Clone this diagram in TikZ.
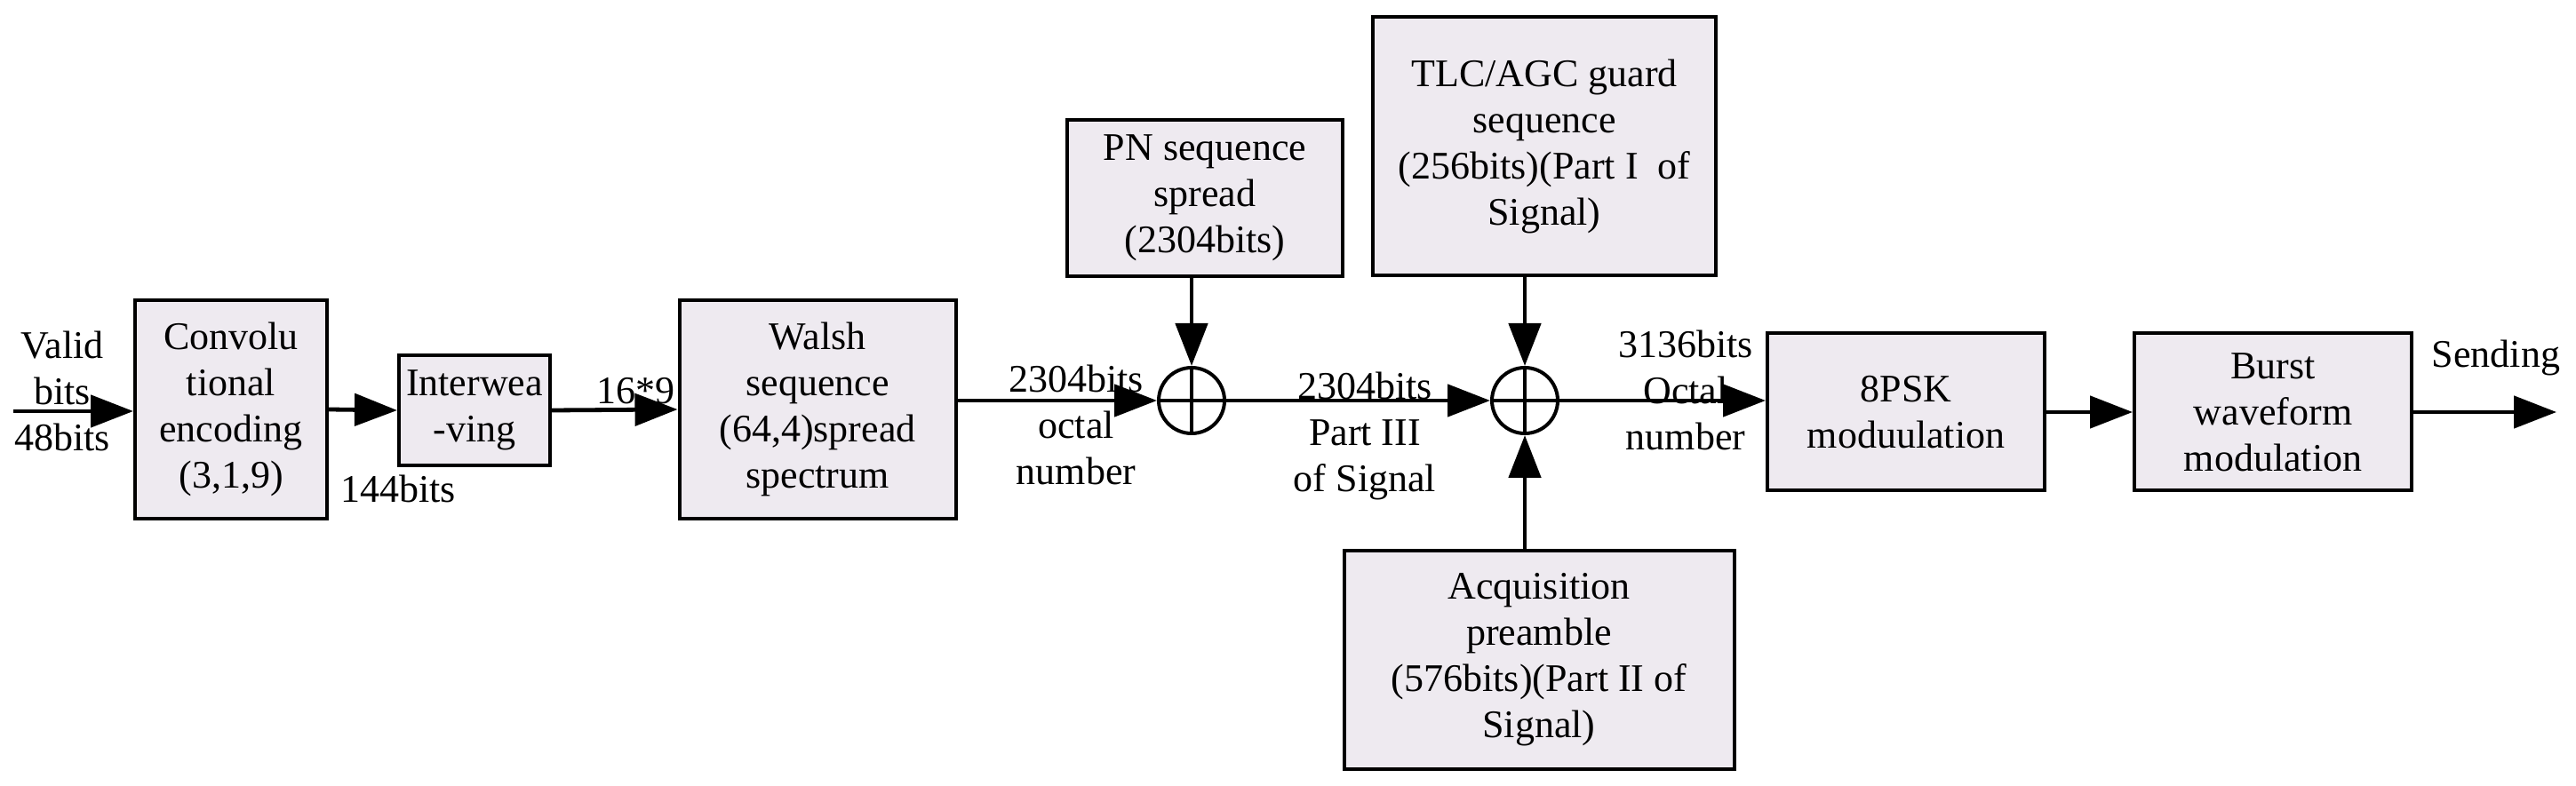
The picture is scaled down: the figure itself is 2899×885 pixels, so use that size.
\documentclass[tikz,border=0pt]{standalone}
\usepackage{fontspec}
\setmainfont{Liberation Serif}
\usetikzlibrary{arrows.meta}
\begin{document}
\begin{tikzpicture}[x=0.25pt,y=-0.25pt,
  box/.style={draw,line width=1pt,fill=boxfill,align=center,inner sep=0pt,font=\fontsize{11}{13}\selectfont},
  lbl/.style={align=center,inner sep=0pt,font=\fontsize{11}{13}\selectfont},
  sum/.style={draw,line width=1pt,circle,minimum size=18.5pt,inner sep=0pt,
    path picture={\draw[line width=1pt] (path picture bounding box.north) -- (path picture bounding box.south)
      (path picture bounding box.west) -- (path picture bounding box.east);}},
  arr/.style={line width=1.2pt,-{Triangle[length=12pt,width=9pt]}}]
\definecolor{boxfill}{HTML}{EEEAF0}
\useasboundingbox (0,0) rectangle (2899,885);
\node[box,minimum width=54pt,minimum height=61.5pt] (conv) at (260,461) {Convolu\\tional\\encoding\\(3,1,9)};
\node[box,minimum width=42.5pt,minimum height=31pt] (inter) at (534,462) {Interwea\\-ving};
\node[box,minimum width=77.75pt,minimum height=61.5pt] (walsh) at (920,461) {Walsh\\sequence\\(64,4)spread\\spectrum};
\node[box,minimum width=77.5pt,minimum height=44pt] (pn) at (1356,223) {PN sequence\\spread\\(2304bits)};
\node[box,minimum width=96.5pt,minimum height=72.75pt] (tlc) at (1738,165) {TLC/AGC guard\\sequence\\(256bits)(Part I\enspace of\\Signal)};
\node[box,minimum width=109.75pt,minimum height=61.25pt] (acq) at (1732,743) {Acquisition\\preamble\\(576bits)(Part II of\\Signal)};
\node[box,minimum width=78pt,minimum height=44.25pt] (psk) at (2145,464) {8PSK\\moduulation};
\node[box,minimum width=78pt,minimum height=44.25pt] (burst) at (2558,464) {Burst\\waveform\\modulation};
\node[sum] (s1) at (1341,451) {};
\node[sum] (s2) at (1716,451) {};
\coordinate (in) at (15,463);
\coordinate (out) at (2877,464);
\draw[arr] (in) -- (in -| conv.west);
\draw[arr] (conv.east) -- (inter.west);
\draw[arr] (inter.east) -- (walsh.west);
\draw[arr] (walsh.east |- s1) -- (s1.west);
\draw[arr] (s1.east) -- (s2.west);
\draw[arr] (s2.east) -- (psk.west |- s2);
\draw[arr] (pn.south -| s1) -- (s1.north);
\draw[arr] (tlc.south -| s2) -- (s2.north);
\draw[arr] (acq.north -| s2) -- (s2.south);
\draw[arr] (psk.east) -- (burst.west);
\draw[arr] (burst.east) -- (out);
\node[lbl] (l1) at (70,440) {Valid\\bits\\48bits};
\node[lbl] (l2) at (448,550) {144bits};
\node[lbl] (l3) at (715,440) {16*9};
\node[lbl] (l4) at (1211,478) {2304bits\\octal\\number};
\node[lbl] (l5) at (1536,491) {2304bits\\Part III\\of Signal};
\node[lbl] (l6) at (1897,439) {3136bits\\Octal\\number};
\node[lbl] (l7) at (2809,403) {Sending};
\end{tikzpicture}
\end{document}
